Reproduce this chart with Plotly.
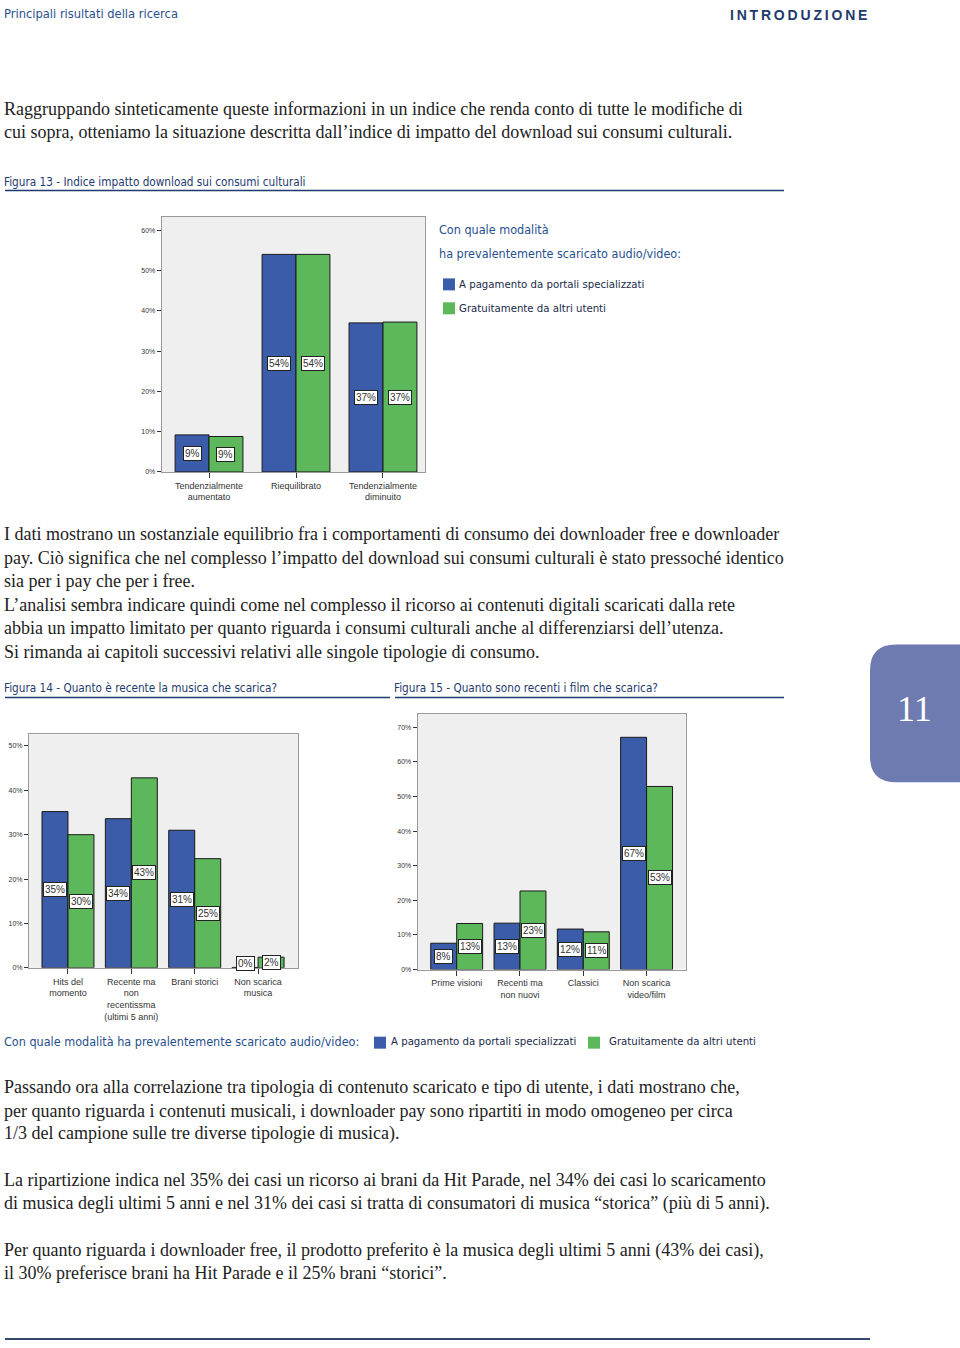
import plotly.graph_objects as go

W, H = 960, 1348

# ---------------- data ----------------
series_names = ["A pagamento da portali specializzati", "Gratuitamente da altri utenti"]

fig13_cats = ["Tendenzialmente<br>aumentato", "Riequilibrato", "Tendenzialmente<br>diminuito"]
fig13_pay = [9.2, 54.0, 37.0]
fig13_free = [8.8, 54.0, 37.2]
fig13_pay_lbl = ["9%", "54%", "37%"]
fig13_free_lbl = ["9%", "54%", "37%"]

fig14_cats = ["Hits del<br>momento", "Recente ma<br>non<br>recentissma<br>(ultimi 5 anni)", "Brani storici", "Non scarica<br>musica"]
fig14_pay = [35.2, 33.6, 31.0, 0.1]
fig14_free = [30.0, 42.8, 24.6, 2.4]
fig14_pay_lbl = ["35%", "34%", "31%", "0%"]
fig14_free_lbl = ["30%", "43%", "25%", "2%"]

fig15_cats = ["Prime visioni", "Recenti ma<br>non nuovi", "Classici", "Non scarica<br>video/film"]
fig15_pay = [7.6, 13.4, 11.7, 67.1]
fig15_free = [13.3, 22.7, 10.9, 52.9]
fig15_pay_lbl = ["8%", "13%", "12%", "67%"]
fig15_free_lbl = ["13%", "23%", "11%", "53%"]

BLUE = "#3b5ca8"
GREEN = "#5cb85a"
NAVY = "#1e3a6e"
LEGBLUE = "#1f4f8f"
SERIF = "Liberation Serif"
NARROW = "DejaVu Sans Condensed, Liberation Sans Narrow, sans-serif"
SANS = "Liberation Sans"

def px(x):
    return x / W

def py(y):
    return 1 - y / H

fig = go.Figure()

charts = [
    (fig13_cats, fig13_pay, fig13_free, fig13_pay_lbl, fig13_free_lbl, "", (161.7, 425), (217, 473), 63.4, (-0.544, 2.483), 0.22, 60),
    (fig14_cats, fig14_pay, fig14_free, fig14_pay_lbl, fig14_free_lbl, "2", (29, 298), (736, 970), 52.6, (-0.615, 3.63), 0.18, 50),
    (fig15_cats, fig15_pay, fig15_free, fig15_pay_lbl, fig15_free_lbl, "3", (417.7, 685.7), (715.7, 971.7), 73.8, (-0.616, 3.618), 0.18, 70),
]

annotations = []
for cats, pay, free, plbl, flbl, ax, xd, yd, ymax, xr, gap, tmax in charts:
    idx = list(range(len(cats)))
    width = (1 - gap) / 2
    fig.add_trace(go.Bar(x=idx, y=pay, name=series_names[0], marker=dict(color=BLUE, line=dict(color="#1a1a1a", width=1)),
                         width=width, offset=-width, xaxis="x" + ax, yaxis="y" + ax, showlegend=False))
    fig.add_trace(go.Bar(x=idx, y=free, name=series_names[1], marker=dict(color=GREEN, line=dict(color="#1a1a1a", width=1)),
                         width=width, offset=0, xaxis="x" + ax, yaxis="y" + ax, showlegend=False))
    for i in idx:
        for v, lab, off in ((pay[i], plbl[i], -width / 2), (free[i], flbl[i], width / 2)):
            annotations.append(dict(x=i + off, y=max(v / 2, 1.0), xref="x" + ax, yref="y" + ax, text=lab, showarrow=False,
                                    font=dict(family=SANS, size=10, color="#333"), bgcolor="white", bordercolor="#222",
                                    borderwidth=1, borderpad=1))
    xa = dict(domain=[px(xd[0]), px(xd[1])], range=list(xr), tickvals=idx, ticktext=cats, showline=True, mirror=True,
              linecolor="#9a9a9a", linewidth=1, ticks="outside", ticklen=5, tickcolor="#333", showgrid=False, zeroline=False,
              tickfont=dict(family=SANS, size=9, color="#333"), anchor="y" + ax, fixedrange=True)
    ya = dict(domain=[py(yd[1]), py(yd[0])], range=[0, ymax], tickvals=list(range(0, tmax + 1, 10)),
              ticktext=[f"{t}%" for t in range(0, tmax + 1, 10)], showline=True, mirror=True, linecolor="#9a9a9a",
              linewidth=1, ticks="outside", ticklen=4, tickcolor="#333", showgrid=False, zeroline=False,
              tickfont=dict(family=SANS, size=7, color="#333"), anchor="x" + ax, fixedrange=True)
    fig.update_layout(**{"xaxis" + ax: xa, "yaxis" + ax: ya})

def text(x, y, s, size, color="#222", family=SERIF, xanchor="left", weight="normal"):
    annotations.append(dict(x=px(x), y=py(y), xref="paper", yref="paper", text=s, showarrow=False, xanchor=xanchor,
                            yanchor="middle", borderpad=0,
                            font=dict(family=family, size=size, color=color, weight=weight)))

# header
text(3, 14, "Principali risultati della ricerca", 12.8, "#2b4f8f", NARROW)
text(868, 15, "\u2009".join("INTRODUZIONE"), 14, NAVY, SANS, xanchor="right", weight="bold")

body1 = [
    (109, "Raggruppando sinteticamente queste informazioni in un indice che renda conto di tutte le modifiche di"),
    (132, "cui sopra, otteniamo la situazione descritta dall’indice di impatto del download sui consumi culturali."),
]
body2 = [
    (535, "I dati mostrano un sostanziale equilibrio fra i comportamenti di consumo dei downloader free e downloader"),
    (559, "pay. Ciò significa che nel complesso l’impatto del download sui consumi culturali è stato pressoché identico"),
    (582, "sia per i pay che per i free."),
    (606, "L’analisi sembra indicare quindi come nel complesso il ricorso ai contenuti digitali scaricati dalla rete"),
    (629, "abbia un impatto limitato per quanto riguarda i consumi culturali anche al differenziarsi dell’utenza."),
    (653, "Si rimanda ai capitoli successivi relativi alle singole tipologie di consumo."),
]
body3 = [
    (1089, "Passando ora alla correlazione tra tipologia di contenuto scaricato e tipo di utente, i dati mostrano che,"),
    (1113, "per quanto riguarda i contenuti musicali, i downloader pay sono ripartiti in modo omogeneo per circa"),
    (1136, "1/3 del campione sulle tre diverse tipologie di musica)."),
    (1183, "La ripartizione indica nel 35% dei casi un ricorso ai brani da Hit Parade, nel 34% dei casi lo scaricamento"),
    (1206, "di musica degli ultimi 5 anni e nel 31% dei casi si tratta di consumatori di musica “storica” (più di 5 anni)."),
    (1253, "Per quanto riguarda i downloader free, il prodotto preferito è la musica degli ultimi 5 anni (43% dei casi),"),
    (1276, "il 30% preferisce brani ha Hit Parade e il 25% brani “storici”."),
]
for y, s in body1 + body2 + body3:
    text(3, y, s, 18)

# figure captions
text(3, 182, "Figura 13 - Indice impatto download sui consumi culturali", 11.7, NAVY, NARROW)
text(3, 690, "Figura 14 - Quanto è recente la musica che scarica?", 11.7, NAVY, NARROW)
text(393, 690, "Figura 15 - Quanto sono recenti i film che scarica?", 11.7, NAVY, NARROW)

# legend for fig 13
text(438, 230, "Con quale modalità", 12.5, LEGBLUE, NARROW)
text(438, 254, "ha prevalentemente scaricato audio/video:", 12.5, LEGBLUE, NARROW)
text(458, 285, series_names[0], 11.3, "#1a2a4a", NARROW)
text(458, 309, series_names[1], 11.3, "#1a2a4a", NARROW)

# bottom legend
text(3, 1044, "Con quale modalità ha prevalentemente scaricato audio/video:", 12.5, LEGBLUE, NARROW)
text(390, 1044, series_names[0], 11.3, "#1a2a4a", NARROW)
text(608, 1044, series_names[1], 11.3, "#1a2a4a", NARROW)

# page tab number
annotations.append(dict(x=px(914), y=py(711), xref="paper", yref="paper", text="11", showarrow=False,
                        xanchor="center", yanchor="middle",
                        font=dict(family=SERIF, size=36, color="white")))

shapes = []
def rect(x0, y0, x1, y1, color):
    shapes.append(dict(type="rect", xref="paper", yref="paper", x0=px(x0), x1=px(x1), y0=py(y1), y1=py(y0),
                       fillcolor=color, line=dict(width=0)))

def hline(x0, x1, y, color, w):
    shapes.append(dict(type="line", xref="paper", yref="paper", x0=px(x0), x1=px(x1), y0=py(y), y1=py(y),
                       line=dict(color=color, width=w)))

rect(443, 279, 455, 291, BLUE)
rect(443, 303, 455, 315, GREEN)
rect(374, 1039, 386, 1051, BLUE)
rect(588, 1039, 600, 1051, GREEN)

hline(5, 784, 191, NAVY, 1.5)
hline(5, 390, 699, NAVY, 1.5)
hline(395, 784, 699, NAVY, 1.5)
hline(5, 870, 1342, "#34496b", 2)

# rounded tab
r = 26
x0, x1, y0, y1 = 870, 962, 646, 784
path = (f"M {px(x0 + r)} {py(y0)} L {px(x1)} {py(y0)} L {px(x1)} {py(y1)} L {px(x0 + r)} {py(y1)} "
        f"Q {px(x0)} {py(y1)} {px(x0)} {py(y1 - r)} L {px(x0)} {py(y0 + r)} Q {px(x0)} {py(y0)} {px(x0 + r)} {py(y0)} Z")
shapes.append(dict(type="path", xref="paper", yref="paper", path=path, fillcolor="#6e7bb0", line=dict(width=0), layer="below"))

fig.update_layout(width=W, height=H, margin=dict(l=0, r=0, t=0, b=0), paper_bgcolor="white", plot_bgcolor="#efefef",
                  barmode="overlay", annotations=annotations, shapes=shapes, showlegend=False)

fig.write_html("out.html", config={"displayModeBar": False},
               post_script="document.body.style.margin='0';document.body.style.overflow='hidden';")
